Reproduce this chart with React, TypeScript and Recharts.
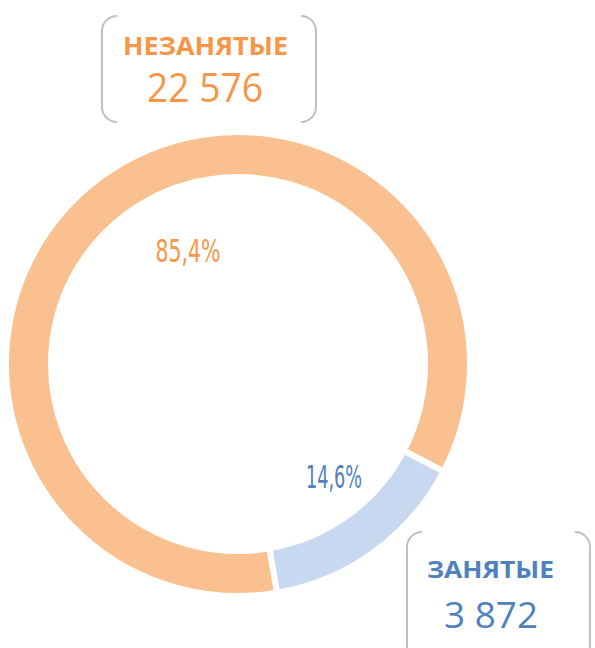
import React from "react";
import { PieChart, Pie, Cell } from "recharts";

const categories = ["НЕЗАНЯТЫЕ", "ЗАНЯТЫЕ"];
const values = [22576, 3872];
const valueLabels = ["22 576", "3 872"];
const percentLabels = ["85,4%", "14,6%"];
const sliceColors = ["#FAC090", "#C6D9F0"];
const textColors = ["#F79646", "#4F81BD"];

const data = categories.map((name, i) => ({ name, value: values[i] }));

const W = 595;
const H = 648;
const CX = 238;
const CY = 364;

const labelOffsets = [
  { dx: -50, dy: -102, len: 65 },
  { dx: 96, dy: 124, len: 56 },
];

const renderLabel = (props: any) => {
  const { index } = props;
  const o = labelOffsets[index];
  return (
    <text
      key={"lbl" + index}
      x={CX + o.dx}
      y={CY + o.dy}
      textAnchor="middle"
      fill={textColors[index]}
      fontFamily="'DejaVu Sans Condensed', 'DejaVu Sans', sans-serif"
      fontSize={32}
      textLength={o.len}
      lengthAdjust="spacingAndGlyphs"
    >
      {percentLabels[index]}
    </text>
  );
};

const boxStroke = "#BFBFBF";

export default function App() {
  return (
    <div style={{ position: "absolute", left: 0, top: 0, width: W, height: H, background: "#fff", overflow: "hidden" }}>
      <PieChart width={W} height={H} margin={{ top: 0, right: 0, bottom: 0, left: 0 }}>
        <Pie
          data={data}
          dataKey="value"
          nameKey="name"
          cx={CX}
          cy={CY}
          innerRadius={187}
          outerRadius={232}
          startAngle={279.7}
          endAngle={-80.3}
          stroke="#ffffff"
          strokeWidth={6}
          isAnimationActive={false}
          label={renderLabel}
          labelLine={false}
        >
          {data.map((d, i) => (
            <Cell key={d.name} fill={sliceColors[i]} />
          ))}
        </Pie>
      </PieChart>
      <svg width={W} height={H} style={{ position: "absolute", left: 0, top: 0, pointerEvents: "none" }}>
        <g fill="none" stroke={boxStroke} strokeWidth={2}>
          <path d="M 117 16 A 15 15 0 0 0 102 31 L 102 107 A 15 15 0 0 0 117 122" />
          <path d="M 301 16 A 15 15 0 0 1 316 31 L 316 107 A 15 15 0 0 1 301 122" />
          <path d="M 422 532 A 15 15 0 0 0 407 547 L 407 660" />
          <path d="M 575 532 A 15 15 0 0 1 590 547 L 590 660" />
        </g>
        <text x={205.5} y={55} textAnchor="middle" fill={textColors[0]} fontFamily="'Open Sans', sans-serif" fontWeight="bold" fontSize={25} textLength={165} lengthAdjust="spacingAndGlyphs">
          {categories[0]}
        </text>
        <text x={205} y={102} textAnchor="middle" fill={textColors[0]} fontFamily="'Open Sans', sans-serif" fontSize={40} textLength={116} lengthAdjust="spacingAndGlyphs">
          {valueLabels[0]}
        </text>
        <text x={490.5} y={578} textAnchor="middle" fill={textColors[1]} fontFamily="'Open Sans', sans-serif" fontWeight="bold" fontSize={23.5} textLength={127} lengthAdjust="spacingAndGlyphs">
          {categories[1]}
        </text>
        <text x={491} y={628} textAnchor="middle" fill={textColors[1]} fontFamily="'Open Sans', sans-serif" fontSize={37} textLength={94} lengthAdjust="spacingAndGlyphs">
          {valueLabels[1]}
        </text>
      </svg>
    </div>
  );
}
